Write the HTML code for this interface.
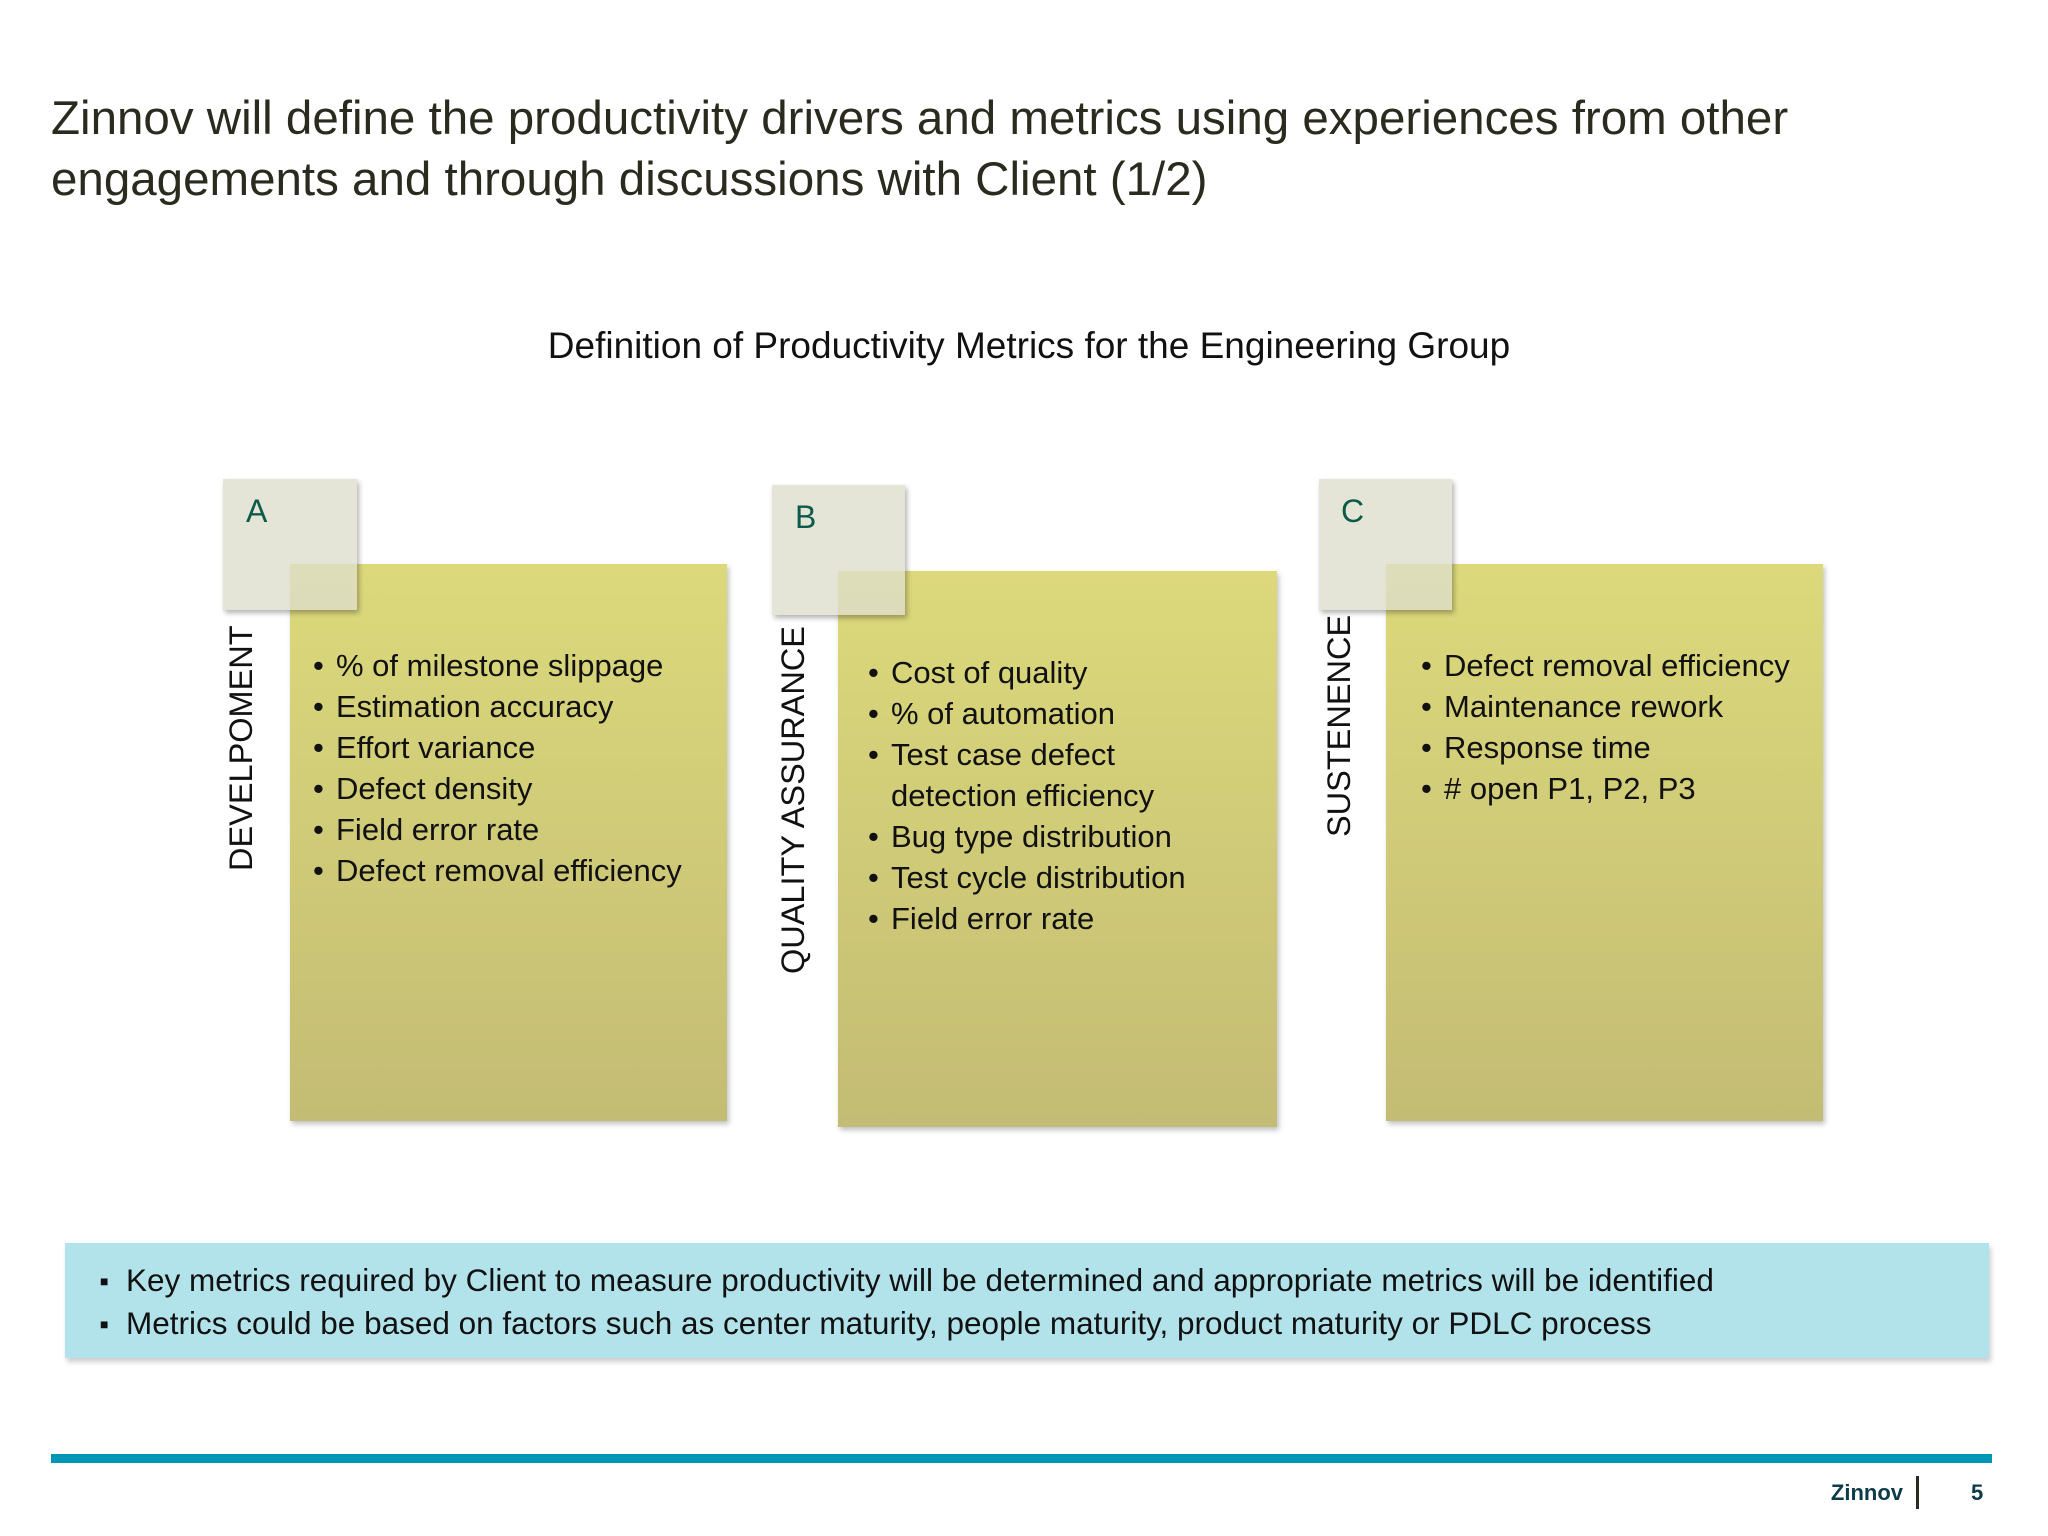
<!DOCTYPE html>
<html><head><meta charset="utf-8"><style>
body{margin:0;width:2048px;height:1536px;background:#fff;position:relative;overflow:hidden;font-family:"Liberation Sans",sans-serif;color:#111}
.abs{position:absolute}
.title{left:51px;top:88px;font-size:47.5px;line-height:61px;color:#2a2a1e;white-space:nowrap}
.sub{left:0;width:2058px;text-align:center;top:325px;font-size:37px}
.card{background:linear-gradient(#dcd97b,#c3bc74);box-shadow:2px 3px 5px rgba(0,0,0,.25)}
.sq{background:rgba(222,222,204,.78);box-shadow:2px 3px 5px rgba(0,0,0,.3)}
.let{font-size:32px;color:#0c5a4a}
.vert{font-size:32.5px;color:#111;transform:rotate(-90deg);transform-origin:left top;white-space:nowrap}
ul{list-style:none;margin:0;padding:0;font-size:31px;line-height:41px;white-space:nowrap}
li{position:relative;padding-left:23px}
li:before{content:"•";position:absolute;left:0}
</style></head><body>
<div class="abs title">Zinnov will define the productivity drivers and metrics using experiences from other<br>engagements and through discussions with Client (1/2)</div>
<div class="abs sub">Definition of Productivity Metrics for the Engineering Group</div>

<div class="abs card" style="left:290px;top:564px;width:437px;height:557px"></div>
<div class="abs sq" style="left:223px;top:479px;width:134px;height:131px"></div>
<div class="abs let" style="left:246px;top:493px">A</div>
<div class="abs vert" style="left:223px;top:871px">DEVELPOMENT</div>
<ul class="abs" style="left:313px;top:645px">
<li>% of milestone slippage</li><li>Estimation accuracy</li><li>Effort variance</li><li>Defect density</li><li>Field error rate</li><li>Defect removal efficiency</li></ul>

<div class="abs card" style="left:838px;top:571px;width:439px;height:556px"></div>
<div class="abs sq" style="left:772px;top:485px;width:133px;height:130px"></div>
<div class="abs let" style="left:795px;top:499px">B</div>
<div class="abs vert" style="left:775px;top:974px">QUALITY ASSURANCE</div>
<ul class="abs" style="left:868px;top:652px">
<li>Cost of quality</li><li>% of automation</li><li>Test case defect<br>detection efficiency</li><li>Bug type distribution</li><li>Test cycle distribution</li><li>Field error rate</li></ul>

<div class="abs card" style="left:1386px;top:564px;width:437px;height:557px"></div>
<div class="abs sq" style="left:1319px;top:479px;width:133px;height:131px"></div>
<div class="abs let" style="left:1341px;top:493px">C</div>
<div class="abs vert" style="left:1321px;top:837px">SUSTENENCE</div>
<ul class="abs" style="left:1421px;top:645px">
<li>Defect removal efficiency</li><li>Maintenance rework</li><li>Response time</li><li># open P1, P2, P3</li></ul>

<div class="abs" style="left:65px;top:1243px;width:1924px;height:115px;background:#b2e3eb;box-shadow:2px 4px 5px rgba(0,0,0,.2)"></div>
<div class="abs" style="left:100px;top:1259px;font-size:31.5px;line-height:42px;white-space:nowrap">
<div><span style="font-size:14px;vertical-align:5px">■</span>&nbsp;&nbsp;Key metrics required by Client to measure productivity will be determined and appropriate metrics will be identified</div>
<div><span style="font-size:14px;vertical-align:5px">■</span>&nbsp;&nbsp;Metrics could be based on factors such as center maturity, people maturity, product maturity or PDLC process</div></div>

<div class="abs" style="left:51px;top:1454px;width:1941px;height:9px;background:#0096b4"></div>
<div class="abs" style="left:1820px;top:1480px;width:83px;text-align:right;font-size:22px;font-weight:bold;color:#0d3b4a">Zinnov</div>
<div class="abs" style="left:1916px;top:1476px;width:3px;height:33px;background:#2a2a1e"></div>
<div class="abs" style="left:1971px;top:1480px;font-size:22px;font-weight:bold;color:#0d3b4a">5</div>
</body></html>
